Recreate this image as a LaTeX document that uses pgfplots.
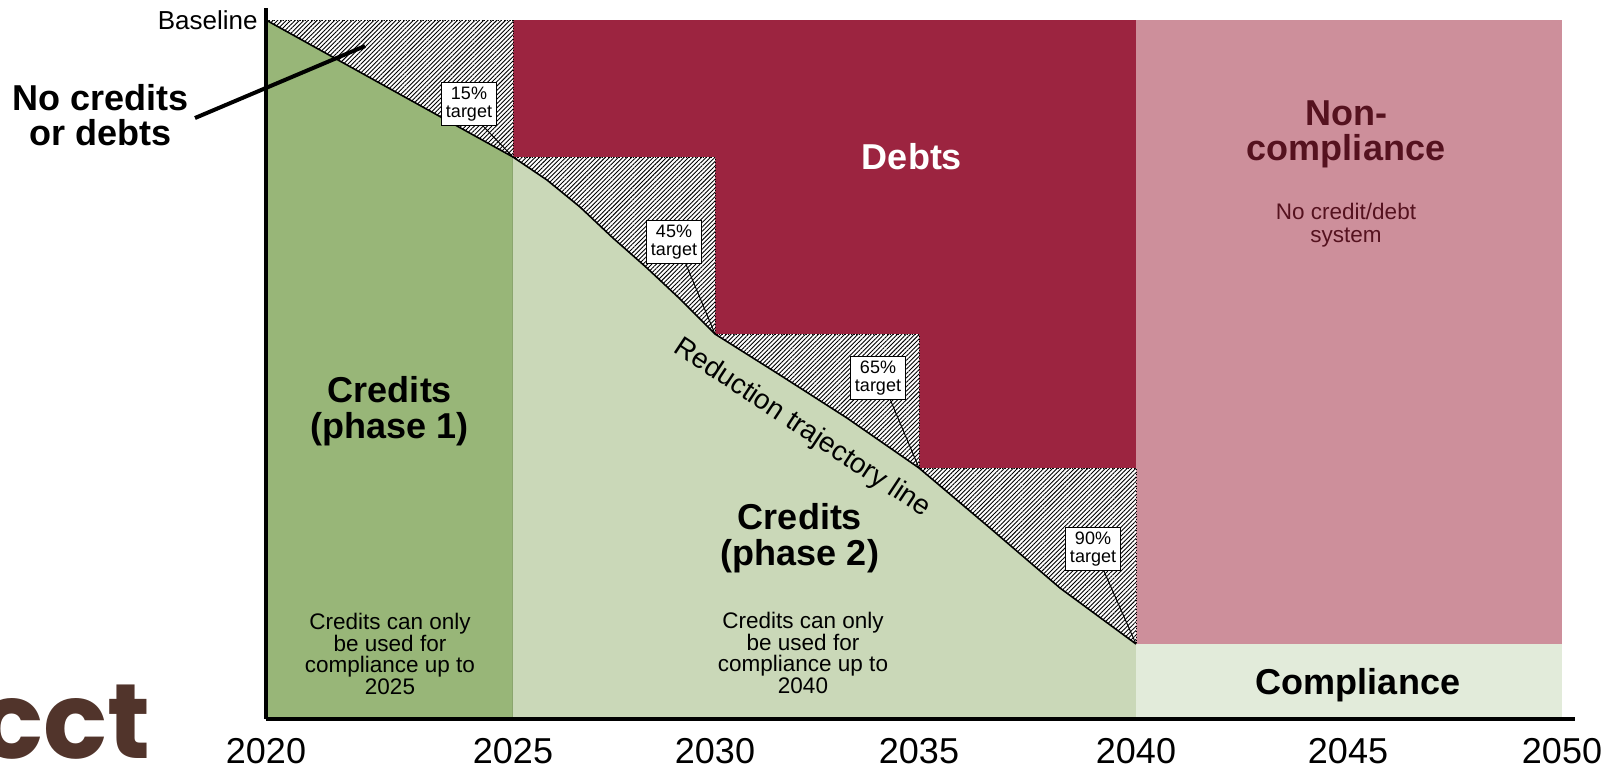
\documentclass[border=0pt]{standalone}
\usepackage{fontspec}
\setmainfont{Liberation Sans}
\newfontfamily\poppins{Poppins}
\usepackage{pgfplots}
\pgfplotsset{compat=1.18}
\usetikzlibrary{patterns.meta}
\definecolor{cPhaseOne}{HTML}{98B678}
\definecolor{cPhaseTwo}{HTML}{CAD8B8}
\definecolor{cDebt}{HTML}{9C2440}
\definecolor{cNonComp}{HTML}{CD8F9B}
\definecolor{cComp}{HTML}{E2EBDA}
\definecolor{cDark}{HTML}{55121F}
\definecolor{cLogo}{HTML}{51342B}
\begin{document}
\begin{tikzpicture}[
  tbox/.style={draw=black, line width=0.4pt, fill=white, align=center,
    font=\fontsize{9}{9}\selectfont, inner sep=1.2pt, minimum width=27.5pt, minimum height=21.5pt},
  big/.style={align=center, font=\bfseries\fontsize{18}{18}\selectfont},
  small/.style={align=center, font=\fontsize{11.25}{10.9}\selectfont}]
\useasboundingbox (0,0) rectangle (805.5pt,383.5pt);
\begin{axis}[
  at={(133pt,24pt)}, anchor=south west,
  scale only axis, width=654.5pt, height=355.5pt,
  xmin=266, xmax=1575, ymin=0, ymax=101.72,
  axis lines*=left, axis line style={line width=1.75pt},
  xtick={266,513,715,919,1136,1348,1562},
  xticklabels={2020,2025,2030,2035,2040,2045,2050},
  ytick=\empty,
  major tick length=0pt,
  xticklabel style={font=\fontsize{18}{18}\selectfont, anchor=north, inner sep=0pt, yshift=-9.5pt},
  clip=false,
  axis on top,
]
% regions
\addplot[fill=cPhaseOne, draw=cPhaseOne!75!black, line width=0.4pt] coordinates {(266,0)(266,100)(513,80.40)(513,0)} -- cycle;
\addplot[fill=cPhaseTwo, draw=none] coordinates {(513,0)(513,80.40)(547,77.11)(580,73.25)(613,68.81)(647,64.52)(680,60.09)(715,55.08)(780,49.21)(847,43.06)(919,35.91)(990,27.32)(1060,18.74)(1136,10.73)(1136,0)} -- cycle;
\addplot[fill=cDebt, draw=none] coordinates {(513,100)(1136,100)(1136,35.91)(919,35.91)(919,55.08)(715,55.08)(715,80.40)(513,80.40)} -- cycle;
\addplot[fill=cNonComp, draw=none] coordinates {(1136,10.73)(1136,100)(1562,100)(1562,10.73)} -- cycle;
\addplot[fill=cComp, draw=none] coordinates {(1136,0)(1136,10.73)(1562,10.73)(1562,0)} -- cycle;
% hatched band between trajectory and targets
\addplot[fill=white, draw=none] coordinates {(266,100)(513,100)(513,80.40)(715,80.40)(715,55.08)(919,55.08)(919,35.91)(1136,35.91)(1136,10.73)(1060,18.74)(990,27.32)(919,35.91)(847,43.06)(780,49.21)(715,55.08)(680,60.09)(647,64.52)(613,68.81)(580,73.25)(547,77.11)(513,80.40)} -- cycle;
\addplot[pattern={Lines[angle=45,distance=1.55pt,line width=0.45pt]}, pattern color=black, draw=none] coordinates {(266,100)(513,100)(513,80.40)(715,80.40)(715,55.08)(919,55.08)(919,35.91)(1136,35.91)(1136,10.73)(1060,18.74)(990,27.32)(919,35.91)(847,43.06)(780,49.21)(715,55.08)(680,60.09)(647,64.52)(613,68.81)(580,73.25)(547,77.11)(513,80.40)} -- cycle;
\addplot[black, densely dotted, line width=0.4pt] coordinates {(266,100)(513,100)(513,80.40)(715,80.40)(715,55.08)(919,55.08)(919,35.91)(1136,35.91)(1136,10.73)};
% trajectory
\addplot[black, line width=0.8pt] coordinates {(266,100)(513,80.40)(547,77.11)(580,73.25)(613,68.81)(647,64.52)(680,60.09)(715,55.08)(780,49.21)(847,43.06)(919,35.91)(990,27.32)(1060,18.74)(1136,10.73)};
% target callouts
\draw[line width=0.5pt] (axis cs:483,84.84) -- (axis cs:513,80.40);
\draw[line width=0.5pt] (axis cs:685,65.38) -- (axis cs:715,55.08);
\draw[line width=0.5pt] (axis cs:890,45.78) -- (axis cs:919,35.91);
\draw[line width=0.5pt] (axis cs:1103,21.46) -- (axis cs:1136,10.73);
\node[tbox] at (axis cs:469,87.98) {15\%\\target};
\node[tbox] at (axis cs:674,68.24) {45\%\\target};
\node[tbox] at (axis cs:878,48.78) {65\%\\target};
\node[tbox] at (axis cs:1093,24.32) {90\%\\target};
% labels
\node[font=\fontsize{13}{13}\selectfont, anchor=east, inner sep=0pt] at (axis cs:258,100) {Baseline};
\node[big, font=\bfseries\fontsize{18}{17.5}\selectfont] at (axis cs:101,86.4) {No credits\\or debts};
\draw[line width=2pt] (axis cs:195,85.98) -- (axis cs:365,96.28);
\node[big] at (axis cs:390,44.06) {Credits\\(phase 1)};
\node[small] at (axis cs:390,9.30) {Credits can only\\be used for\\compliance up to\\2025};
\node[big, text=white] at (axis cs:912,80.40) {Debts};
\node[big, text=cDark, font=\bfseries\fontsize{18}{17.5}\selectfont] at (axis cs:1346,83.69) {Non-\\compliance};
\node[small, text=cDark, font=\fontsize{11.25}{11.5}\selectfont] at (axis cs:1346,70.67) {No credit/debt\\system};
\node[big] at (axis cs:800,25.89) {Credits\\(phase 2)};
\node[small] at (axis cs:803,9.44) {Credits can only\\be used for\\compliance up to\\2040};
\node[big] at (axis cs:1358,4.86) {Compliance};
\node[rotate=-33.5, font=\fontsize{14}{14}\selectfont] at (axis cs:802,41.6) {Reduction trajectory line};
% logo
\node[anchor=base east, inner sep=0pt, text=cLogo, font=\poppins\bfseries\fontsize{53}{53}\selectfont] at (axis cs:151,-5.58) {cct};
\end{axis}
\end{tikzpicture}
\end{document}
